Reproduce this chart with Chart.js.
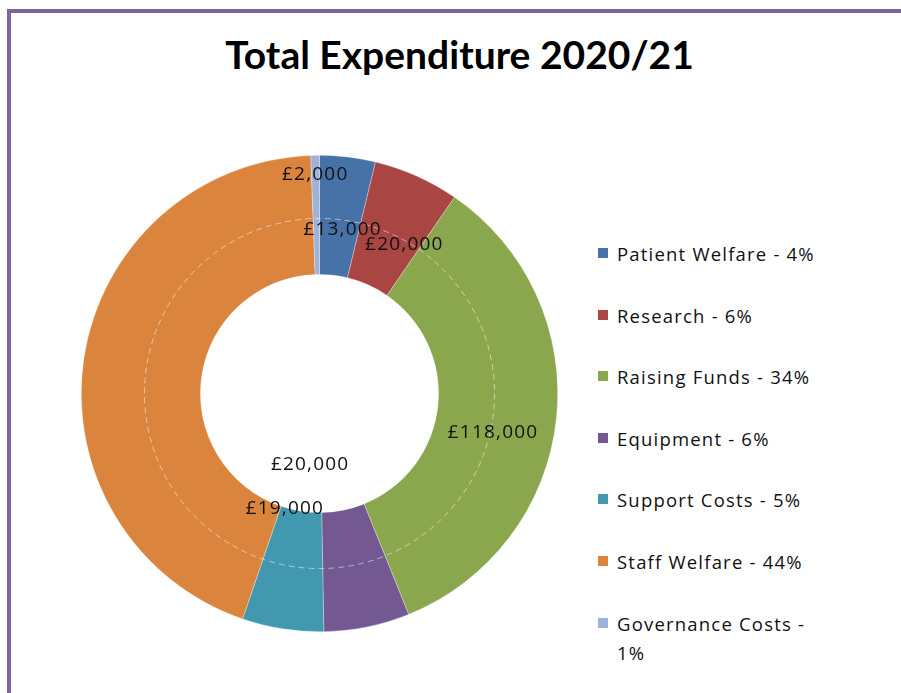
<!DOCTYPE html>
<html>
<head>
<meta charset="utf-8">
<script src="https://cdn.jsdelivr.net/npm/chart.js@4/dist/chart.umd.min.js"></script>
<style>
    html, body { margin: 0; padding: 0; background: #fff; overflow: hidden; }
    body { width: 901px; height: 693px; position: relative; font-family: Lato, 'Open Sans', sans-serif; }
    .frame {
        position: absolute; left: 7px; top: 9px; width: 920px; height: 720px;
        border-left: 4px solid #8064a2; border-top: 4px solid #8064a2;
    }
    .title {
        position: absolute; left: 0; width: 897px; top: 18px; text-align: center;
        font-family: Lato, sans-serif; font-weight: bold; font-size: 39px; color: #000;
    }
    #chartWrap { position: absolute; left: 81px; top: 155px; width: 477px; height: 477px; }
    .legend { position: absolute; left: 598px; top: 239px; list-style: none; margin: 0; padding: 0; }
    .legend li {
        position: relative; padding-left: 19px; height: 61.6px; width: 200px;
        font-family: 'Open Sans', sans-serif; font-size: 18.5px; letter-spacing: 1.2px;
        line-height: 29px; color: #111;
    }
    .legend li span {
        position: absolute; left: 0; top: 9px; width: 10px; height: 10px;
    }
</style>
</head>
<body>
<div class="frame"><div class="title">Total Expenditure 2020/21</div></div>
<div id="chartWrap"><canvas id="expChart"></canvas></div>
<ul class="legend" id="legend"></ul>
<script>
    // Data
    var categories = ['Patient Welfare', 'Research', 'Raising Funds', 'Equipment',
        'Support Costs', 'Staff Welfare', 'Governance Costs'];
    var amounts = [13000, 20000, 118000, 20000, 19000, 152000, 2000];
    var legendLabels = ['Patient Welfare - 4%', 'Research - 6%', 'Raising Funds - 34%',
        'Equipment - 6%', 'Support Costs - 5%', 'Staff Welfare - 44%', 'Governance Costs - 1%'];
    var showLabel = [true, true, true, true, true, false, true];

    var colors = ['#4672a8', '#a94543', '#8aa74e', '#735891', '#4198af', '#da843e', '#9fb3d9'];
    // label nudges from the slice centre (px)
    var labelNudge = [[2, 13], [12, 14], [-4, 20], [-45, -104], [-7, -61], [0, 0], [-1, -40]];

    function money(v) {
        return '£' + v.toLocaleString('en-GB');
    }

    // Legend
    var legendEl = document.getElementById('legend');
    legendLabels.forEach(function (t, i) {
        var li = document.createElement('li');
        li.innerHTML = '<span style="background:' + colors[i] + '"></span>' + t;
        if (i === legendLabels.length - 1) { li.style.width = '196px'; }
        legendEl.appendChild(li);
    });

    // Faint ring + value labels
    var ringAndLabels = {
        id: 'ringAndLabels',
        afterDatasetsDraw: function (chart) {
            var ctx = chart.ctx;
            var meta = chart.getDatasetMeta(0);
            var arc0 = meta.data[0];
            var r = arc0.innerRadius + (arc0.outerRadius - arc0.innerRadius) * 0.47;
            ctx.save();
            ctx.strokeStyle = 'rgba(255,255,255,0.5)';
            ctx.lineWidth = 1;
            ctx.setLineDash([6, 4]);
            ctx.beginPath();
            ctx.arc(arc0.x, arc0.y, r, 0, Math.PI * 2);
            ctx.stroke();
            ctx.setLineDash([]);

            ctx.font = '19px "Open Sans", sans-serif';
            if ('letterSpacing' in ctx) { ctx.letterSpacing = '1.2px'; }
            ctx.fillStyle = '#111';
            ctx.textAlign = 'center';
            ctx.textBaseline = 'middle';
            meta.data.forEach(function (arc, i) {
                if (!showLabel[i]) return;
                var p = arc.tooltipPosition();
                ctx.fillText(money(amounts[i]), p.x + labelNudge[i][0], p.y + labelNudge[i][1]);
            });
            ctx.restore();
        }
    };

    new Chart(document.getElementById('expChart'), {
        type: 'doughnut',
        data: {
            labels: categories,
            datasets: [{
                data: amounts,
                backgroundColor: colors,
                borderColor: 'rgba(255,255,255,0.5)',
                borderWidth: 0.6
            }]
        },
        options: {
            responsive: true,
            maintainAspectRatio: false,
            animation: false,
            cutout: '50%',
            layout: { padding: 0 },
            plugins: {
                legend: { display: false },
                tooltip: { enabled: false }
            }
        },
        plugins: [ringAndLabels]
    });
</script>
</body>
</html>
